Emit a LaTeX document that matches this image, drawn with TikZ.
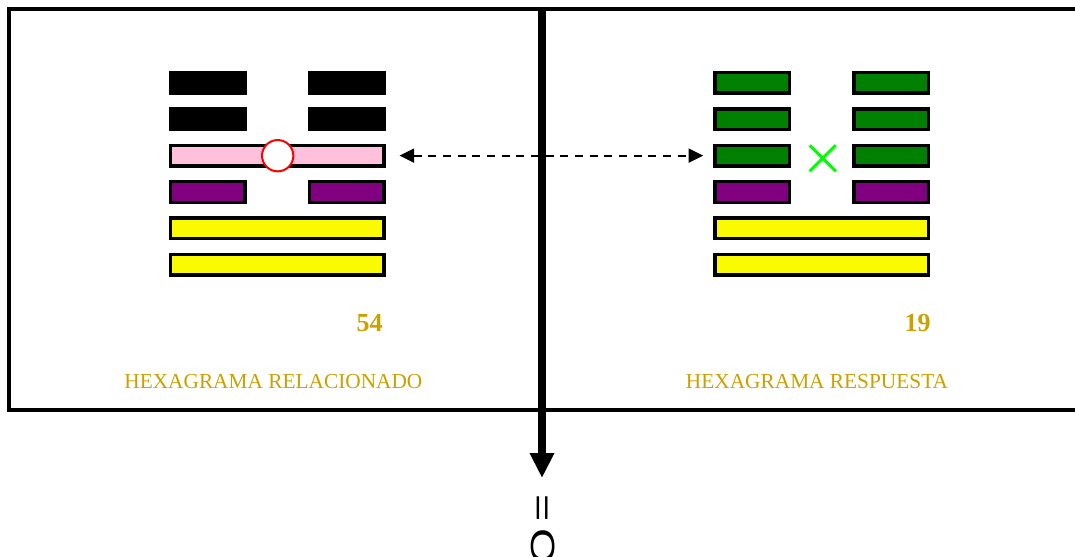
\documentclass[tikz,border=0pt]{standalone}
\usepackage{fontspec}
\setmainfont{Liberation Serif}
\setsansfont{Liberation Sans}
\usetikzlibrary{arrows.meta}

\definecolor{gold}{RGB}{204,160,0}
\definecolor{pinkbar}{RGB}{255,192,220}
\definecolor{purplebar}{RGB}{128,0,128}
\definecolor{greenbar}{RGB}{0,128,0}
\definecolor{yellowbar}{RGB}{250,250,0}
\definecolor{brightgreen}{RGB}{0,255,0}

\begin{document}
\begin{tikzpicture}[x=0.75pt, y=-0.75pt,
	halfbar/.style={draw, line width=2.5pt, inner sep=0pt, minimum width=56pt, minimum height=15.5pt},
	fullbar/.style={halfbar, minimum width=160.25pt},
	hexnum/.style={text=gold, inner sep=0pt, font=\fontsize{19.5}{20}\selectfont\bfseries},
	hexname/.style={text=gold, inner sep=0pt, font=\fontsize{16}{18}\selectfont}]

\def\relx{277}
\def\resx{821.7}
\def\rowy{82.8}
\def\dy{36.4}
\def\dx{69.5}

\path [use as bounding box] (0,0) rectangle (1075,557);

% FRAME
\draw [line width=3.2pt] (1090,8.8) -| (8.8,409.7) -- (1090,409.7);

% RELATED HEXAGRAM (top line first)
\node [halfbar, fill=black] (rel6a) at (\relx-\dx,\rowy) {};
\node [halfbar, fill=black] (rel6b) at (\relx+\dx,\rowy) {};
\node [halfbar, fill=black] (rel5a) at (\relx-\dx,\rowy+\dy) {};
\node [halfbar, fill=black] (rel5b) at (\relx+\dx,\rowy+\dy) {};
\node [fullbar, fill=pinkbar] (rel4) at (\relx,\rowy+2*\dy) {};
\node [halfbar, fill=purplebar] (rel3a) at (\relx-\dx,\rowy+3*\dy) {};
\node [halfbar, fill=purplebar] (rel3b) at (\relx+\dx,\rowy+3*\dy) {};
\node [fullbar, fill=yellowbar] (rel2) at (\relx,\rowy+4*\dy) {};
\node [fullbar, fill=yellowbar] (rel1) at (\relx,\rowy+5*\dy) {};
\node [circle, draw=red, fill=white, line width=1.5pt, inner sep=0pt, minimum size=23.5pt] (rel4mark) at (277.7,155.7) {};

\node [hexnum, anchor=base east] (relnum) at (383,331.5) {54};
\node [hexname, anchor=base] (relname) at (273.4,388) {HEXAGRAMA RELACIONADO};

% ANSWER HEXAGRAM (top line first)
\node [halfbar, fill=greenbar] (res6a) at (\resx-\dx,\rowy) {};
\node [halfbar, fill=greenbar] (res6b) at (\resx+\dx,\rowy) {};
\node [halfbar, fill=greenbar] (res5a) at (\resx-\dx,\rowy+\dy) {};
\node [halfbar, fill=greenbar] (res5b) at (\resx+\dx,\rowy+\dy) {};
\node [halfbar, fill=greenbar] (res4a) at (\resx-\dx,\rowy+2*\dy) {};
\node [halfbar, fill=greenbar] (res4b) at (\resx+\dx,\rowy+2*\dy) {};
\node [halfbar, fill=purplebar] (res3a) at (\resx-\dx,\rowy+3*\dy) {};
\node [halfbar, fill=purplebar] (res3b) at (\resx+\dx,\rowy+3*\dy) {};
\node [fullbar, fill=yellowbar] (res2) at (\resx,\rowy+4*\dy) {};
\node [fullbar, fill=yellowbar] (res1) at (\resx,\rowy+5*\dy) {};
\draw [line width=2.25pt, brightgreen] (822.7,158.3) +(-13,-13) -- +(13,13) +(-13,13) -- +(13,-13);

\node [hexnum, anchor=base east] (resnum) at (931,331) {19};
\node [hexname, anchor=base] (resname) at (817,388) {HEXAGRAMA RESPUESTA};

% LINK
\draw [line width=1.5pt, dash pattern=on 6pt off 5pt,
	{Triangle[length=11pt,width=10.5pt]}-{Triangle[length=11pt,width=10.5pt]},
	shorten <=10.5pt, shorten >=7.5pt] (rel4.east) -- (res4a.west);

% RESULT
\coordinate (top) at (542,8.8);
\node [rotate=-90, yscale=0.72, anchor=base west, inner sep=0pt,
	font=\sffamily\fontsize{35}{36}\selectfont] (eq) at (531.5,494) {=\kern0.15em O};
\draw [line width=5.8pt, -{Triangle[length=18.75pt,width=17.25pt]}, shorten >=12pt] (top) -- (top |- eq.west);

\end{tikzpicture}
\end{document}
